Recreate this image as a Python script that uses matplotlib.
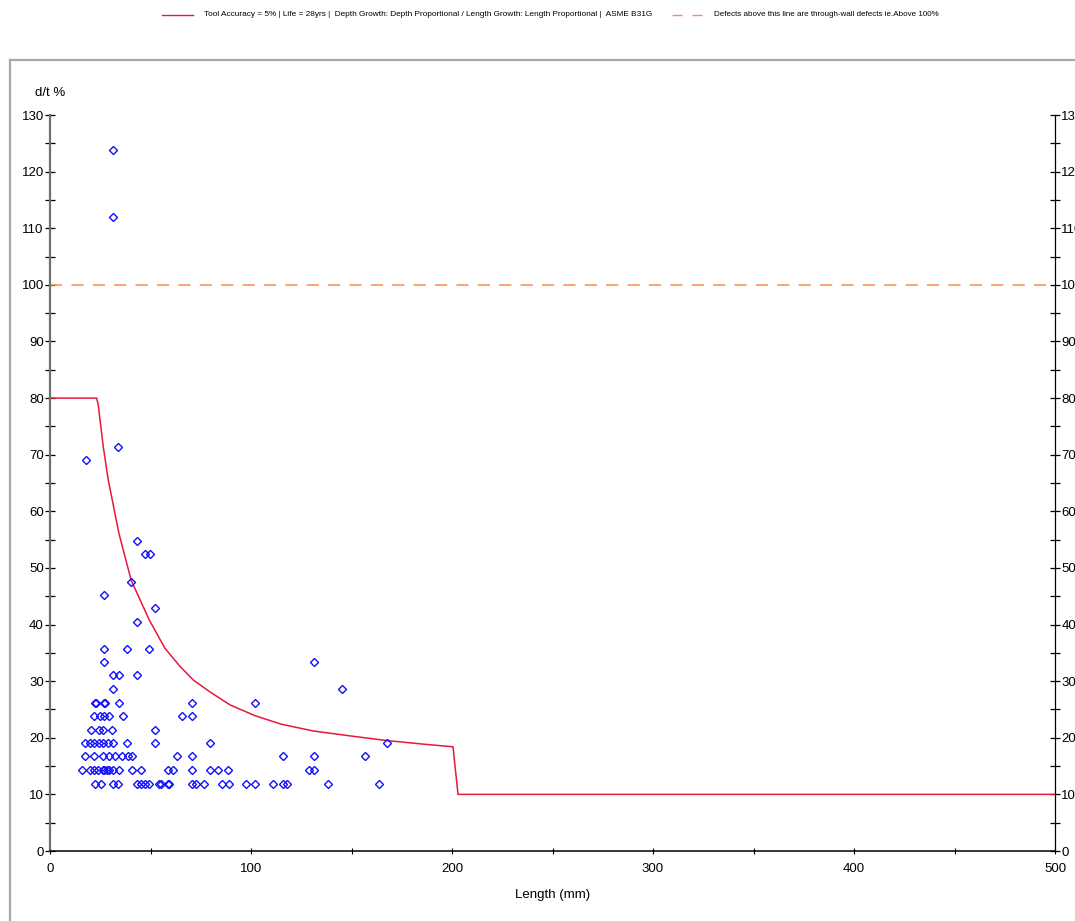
import matplotlib.pyplot as plt
from matplotlib.lines import Line2D
from matplotlib.ticker import MultipleLocator

plt.rcParams['font.family'] = ['Liberation Sans', 'DejaVu Sans']

# ============================================
# Data
# ============================================
# defect points, grouped by depth level (d/t %)
row_119 = [22.4, 25.4, 31.5, 34.0, 43.1, 45.3, 47.3, 49.5, 54.4, 55.0, 58.5, 59.2,
           70.5, 72.5, 76.7, 85.8, 88.9, 97.7, 102.0, 111.1, 115.8, 118.1, 138.5, 163.7]
row_143 = [15.8, 19.9, 21.9, 24.0, 26.2, 27.0, 28.2, 29.5, 31.5, 34.5, 40.6, 45.4,
           58.5, 61.3, 70.5, 79.6, 83.7, 88.7, 129.0, 131.5]
row_167 = [17.4, 21.9, 26.5, 29.5, 32.3, 35.7, 38.6, 40.6, 63.4, 70.5, 115.8, 131.5, 156.6]
row_190 = [17.4, 19.9, 21.9, 24.5, 26.5, 29.0, 31.5, 38.4, 52.2, 79.6, 167.8]
row_214 = [20.2, 24.5, 26.5, 31.0, 52.2]
row_238 = [21.9, 24.9, 27.0, 29.5, 36.2, 65.7, 70.5]
row_262 = [22.4, 22.8, 27.0, 27.4, 34.3, 70.5, 102.0]

# the few deeper defects as (length, d/t) pairs
deep_len = [31.5, 145.4, 31.2, 34.2, 43.1, 27.0, 131.5, 27.0, 38.3, 49.4,
            43.1, 52.2, 27.0, 40.3, 47.4, 49.8, 43.1, 18.1, 34.0, 31.3, 31.3]
deep_dt = [28.6, 28.6, 31.0, 31.0, 31.0, 33.3, 33.3, 35.7, 35.7, 35.7,
           40.5, 42.9, 45.2, 47.6, 52.4, 52.4, 54.8, 69.0, 71.4, 111.9, 123.8]

# ASME B31G acceptance curve
curve_len = [0, 23.2, 24.0, 26.5, 29.0, 34.3, 40.4, 49.4, 57.2, 64.7, 71.3, 80.0,
             89.6, 102.0, 115.0, 131.0, 150.0, 167.8, 185.0, 200.5, 203.0, 500]
curve_dt = [80, 80, 78.8, 71.4, 65.5, 56.1, 47.8, 40.8, 35.8, 32.6, 30.2, 28.0,
            25.8, 23.9, 22.4, 21.2, 20.3, 19.5, 18.9, 18.4, 10, 10]

through_wall = 100

rows = [(row_119, 11.9), (row_143, 14.3), (row_167, 16.7), (row_190, 19.0),
        (row_214, 21.4), (row_238, 23.8), (row_262, 26.2)]
pts_x = list(deep_len)
pts_y = list(deep_dt)
for xs, lvl in rows:
    pts_x += xs
    pts_y += [lvl] * len(xs)

# ============================================
# Figure
# ============================================
fig = plt.figure(figsize=(10.75, 9.21), dpi=100)
W, H = 1075, 921

# grey frame round the plot area
frame_c = '#a8a8a8'
fig.add_artist(Line2D([10 / W, 1.0], [1 - 60 / H, 1 - 60 / H], transform=fig.transFigure,
                      color=frame_c, lw=1.6))
fig.add_artist(Line2D([10 / W, 10 / W], [0, 1 - 60 / H], transform=fig.transFigure,
                      color=frame_c, lw=1.6))

ax = fig.add_axes([50 / W, 1 - 851 / H, 1005 / W, 736 / H])
ax.plot(curve_len, curve_dt, color='#e8173c', lw=1.1)
ax.axhline(through_wall, color='#ff8a4c', lw=1.1, dashes=(8, 6))
ax.plot(pts_x, pts_y, 'D', ms=4.3, mfc='none', mec='#1010ff', mew=1.0, ls='none')

ax.set_xlim(0, 500)
ax.set_ylim(0, 130)
ax.xaxis.set_major_locator(MultipleLocator(100))
ax.xaxis.set_minor_locator(MultipleLocator(50))
ax.yaxis.set_major_locator(MultipleLocator(10))
ax.yaxis.set_minor_locator(MultipleLocator(5))

ax.spines['top'].set_visible(False)
ax.spines['left'].set_color('#707070')
ax.spines['left'].set_linewidth(1.6)
ax.spines['bottom'].set_linewidth(1.1)
ax.spines['right'].set_linewidth(0.9)

ax.tick_params(which='both', direction='inout', labelsize=9.5)
ax.tick_params(axis='x', which='both', length=5, width=0.8, pad=6)
ax.tick_params(axis='y', which='both', length=7, width=0.9, pad=1,
               right=True, labelright=True)
ax.set_xlabel('Length (mm)', fontsize=9.5, labelpad=10)
fig.text(50 / W, 1 - 93 / H, 'd/t %', fontsize=9.5, ha='center', va='center')

# legend strip along the top
leg_y = 1 - 15 / H
fig.add_artist(Line2D([162 / W, 193 / W], [leg_y, leg_y], transform=fig.transFigure,
                      color='#e8173c', lw=1.0))
fig.text(204 / W, leg_y, 'Tool Accuracy = 5% | Life = 28yrs |  Depth Growth: Depth Proportional'
         ' / Length Growth: Length Proportional |  ASME B31G',
         fontsize=5.95, va='center', ha='left')
fig.add_artist(Line2D([672 / W, 702 / W], [leg_y, leg_y], transform=fig.transFigure,
                      color='#ff8a4c', lw=1.0, dashes=(7.2, 7.2)))
fig.text(714 / W, leg_y, 'Defects above this line are through-wall defects ie.Above 100%',
         fontsize=5.8, va='center', ha='left')

fig.savefig('out.png', dpi=100)
